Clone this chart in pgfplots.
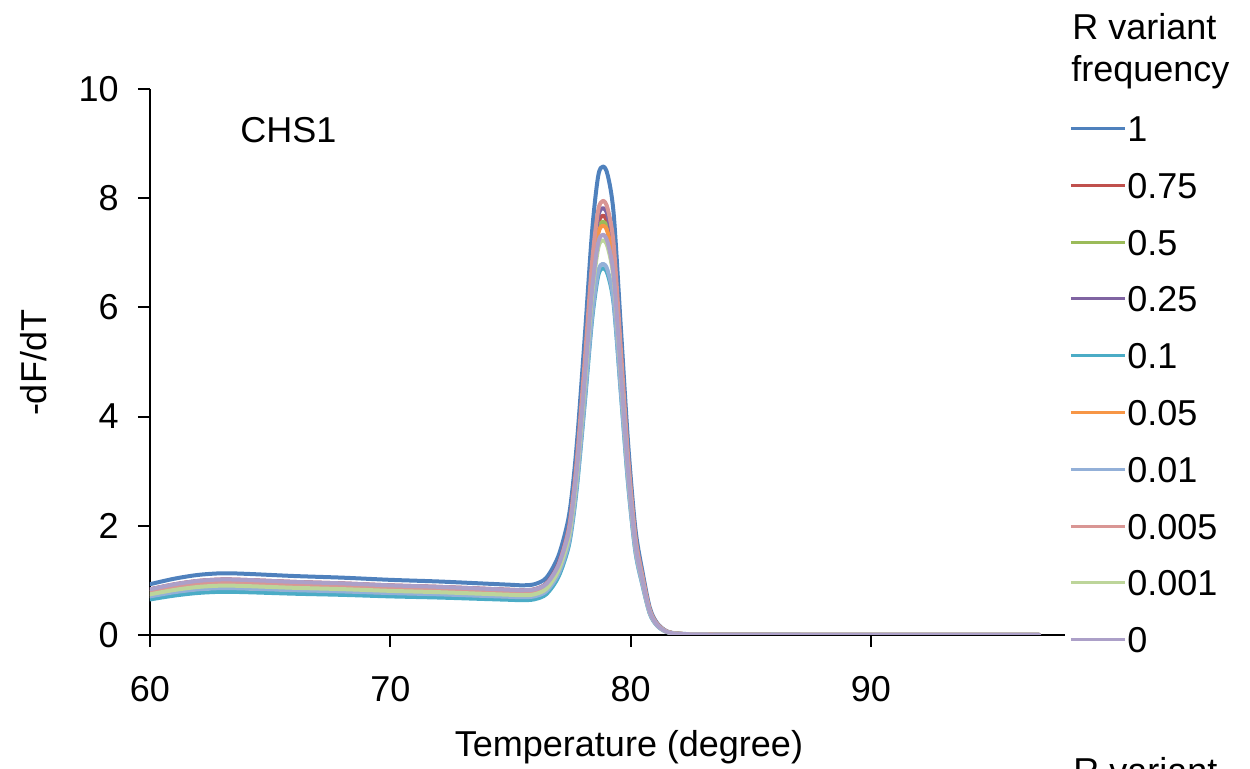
\documentclass[border=0pt]{standalone}
\usepackage{fontspec}
\setmainfont{Liberation Sans}
\usepackage{pgfplots}
\usepackage{pgfplotstable}
\pgfplotsset{compat=1.18}
\definecolor{c1}{HTML}{4F81BD}
\definecolor{c2}{HTML}{C0504D}
\definecolor{c3}{HTML}{9BBB59}
\definecolor{c4}{HTML}{8064A2}
\definecolor{c5}{HTML}{4BACC6}
\definecolor{c6}{HTML}{F79646}
\definecolor{c7}{HTML}{93B0D8}
\definecolor{c8}{HTML}{D99694}
\definecolor{c9}{HTML}{BDD59A}
\definecolor{c10}{HTML}{ACA0C8}
\pgfplotstableread{
T     s1    s2    s3    s4    s5    s6    s7    s8    s9    s10
60    0.93  0.837 0.781 0.828 0.651 0.716 0.707 0.791 0.744 0.837
61    1.03  0.927 0.865 0.917 0.721 0.793 0.783 0.876 0.824 0.927
62    1.10  0.990 0.924 0.979 0.770 0.847 0.836 0.935 0.880 0.990
63    1.13  1.017 0.949 1.006 0.791 0.870 0.859 0.961 0.904 1.017
64    1.12  1.008 0.941 0.997 0.784 0.862 0.851 0.952 0.896 1.008
66    1.08  0.972 0.907 0.961 0.756 0.832 0.821 0.918 0.864 0.972
68    1.05  0.945 0.882 0.935 0.735 0.809 0.798 0.893 0.840 0.945
70    1.01  0.909 0.848 0.899 0.707 0.778 0.768 0.859 0.808 0.909
72    0.98  0.882 0.823 0.872 0.686 0.755 0.745 0.833 0.784 0.882
74    0.94  0.846 0.790 0.837 0.658 0.724 0.714 0.799 0.752 0.846
75    0.92  0.828 0.773 0.819 0.644 0.708 0.699 0.782 0.736 0.828
75.5  0.91  0.819 0.764 0.810 0.637 0.701 0.692 0.774 0.728 0.819
76    0.93  0.837 0.783 0.829 0.654 0.720 0.708 0.793 0.745 0.836
76.5  1.05  0.944 0.889 0.938 0.749 0.826 0.803 0.906 0.847 0.937
77    1.45  1.302 1.244 1.304 1.066 1.181 1.122 1.280 1.187 1.277
77.4  2.10  1.881 1.817 1.896 1.578 1.752 1.636 1.882 1.734 1.827
77.6  2.75  2.466 2.398 2.493 2.096 2.330 2.156 2.493 2.289 2.383
77.8  3.70  3.312 3.236 3.358 2.844 3.168 2.909 3.377 3.091 3.187
78.1  5.50  4.926 4.835 5.007 4.272 4.763 4.344 5.061 4.619 4.720
78.4  7.40  6.622 6.517 6.741 5.775 6.443 5.853 6.833 6.227 6.330
78.65 8.40  7.516 7.407 7.656 6.572 7.334 6.651 7.771 7.078 7.177
78.85 8.58  7.680 7.570 7.820 6.720 7.500 6.800 7.950 7.230 7.330
79.05 8.42  7.532 7.432 7.678 6.601 7.368 6.671 7.802 7.101 7.186
79.3  7.70  6.888 6.800 7.023 6.043 6.746 6.104 7.141 6.497 6.568
79.6  5.60  5.012 4.949 5.111 4.400 4.913 4.442 5.199 4.729 4.778
79.9  3.50  3.134 3.095 3.196 2.752 3.073 2.778 3.252 2.958 2.987
80.2  1.95  1.742 1.721 1.777 1.530 1.709 1.544 1.808 1.644 1.660
80.5  1.15  1.031 1.019 1.052 0.906 1.012 0.914 1.071 0.974 0.983
80.8  0.50  0.446 0.441 0.455 0.392 0.438 0.396 0.464 0.421 0.425
81.1  0.22  0.197 0.195 0.201 0.173 0.194 0.175 0.205 0.186 0.187
81.5  0.07  0.063 0.062 0.064 0.055 0.062 0.056 0.065 0.059 0.060
82    0.025 0.022 0.022 0.022 0.019 0.021 0.020 0.022 0.021 0.021
83    0.012 0.011 0.011 0.011 0.010 0.011 0.010 0.011 0.010 0.010
85    0.006 0.005 0.005 0.005 0.005 0.005 0.005 0.005 0.005 0.005
90    0.003 0.003 0.003 0.003 0.003 0.003 0.003 0.003 0.003 0.003
97    0.002 0.002 0.002 0.002 0.002 0.002 0.002 0.002 0.002 0.002
}\meltdata
\begin{document}
\begin{tikzpicture}[font=\fontsize{18}{21.6}\selectfont]
\useasboundingbox (-75pt,-67pt) rectangle (550pt,317.5pt);
\begin{axis}[
  at={(0pt,0pt)}, anchor=south west,
  scale only axis, width=457.5pt, height=273pt,
  xmin=60, xmax=98.08, ymin=0, ymax=10,
  axis lines*=left,
  axis line style={line width=1pt, black},
  xtick={60,70,80,90}, ytick={0,2,4,6,8,10},
  tick align=outside, major tick length=6pt,
  tick style={line width=1pt, black},
  /pgf/number format/assume math mode=true,
  ticklabel style={font=\fontsize{18}{21.6}\selectfont},
  yticklabel style={inner sep=0pt, anchor=east, xshift=-9.5pt},
  xticklabel style={inner sep=0pt, anchor=north, yshift=-14.5pt},
  every axis plot/.append style={line width=2pt, smooth, no markers, line join=round, line cap=round},
  legend style={draw=none, fill=none, at={(axis description cs:1.0044,0.952)}, anchor=north west,
    inner sep=0pt, row sep=15.5pt, column sep=0.5pt,
    nodes={inner sep=0pt, text height=12.9pt, text depth=0pt},
    font=\fontsize{18}{21.6}\selectfont},
  legend cell align=left,
  legend image code/.code={\draw[#1, line width=1.5pt, line cap=butt] (0pt,0pt) -- (27pt,0pt);},
]
\addplot[c1]  table[x=T, y=s1]  {\meltdata};
\addplot[c2]  table[x=T, y=s2]  {\meltdata};
\addplot[c3]  table[x=T, y=s3]  {\meltdata};
\addplot[c4]  table[x=T, y=s4]  {\meltdata};
\addplot[c5]  table[x=T, y=s5]  {\meltdata};
\addplot[c6]  table[x=T, y=s6]  {\meltdata};
\addplot[c7]  table[x=T, y=s7]  {\meltdata};
\addplot[c8]  table[x=T, y=s8]  {\meltdata};
\addplot[c9]  table[x=T, y=s9]  {\meltdata};
\addplot[c10] table[x=T, y=s10] {\meltdata};
\legend{1,0.75,0.5,0.25,0.1,0.05,0.01,0.005,0.001,0}
\end{axis}
\begin{scope}[every node/.style={inner sep=0pt}]
\node[anchor=base west] at (45pt,246pt) {CHS1};
\node[anchor=base] at (239.5pt,-61pt) {Temperature (degree)};
\node[anchor=base, rotate=90] at (-51.5pt,136pt) {-dF/dT};
\node[anchor=base west] at (461pt,297.5pt) {R variant};
\node[anchor=base west] at (460.5pt,276.5pt) {frequency};
\node[anchor=base west] at (461.5pt,-74.5pt) {R variant};
\end{scope}
\end{tikzpicture}
\end{document}
